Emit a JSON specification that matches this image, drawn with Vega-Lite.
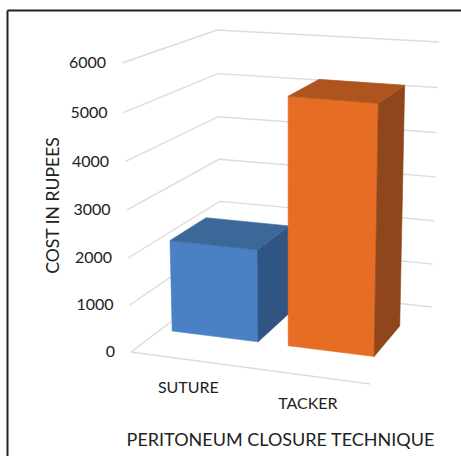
{
  "$schema": "https://vega.github.io/schema/vega-lite/v6.json",
  "width": 454,
  "height": 446,
  "autosize": "none",
  "padding": {"left": 7, "top": 10, "right": 0, "bottom": 0},
  "background": "white",
  "config": {"view": {"stroke": null}, "font": "Lato"},
  "datasets": {
    "bars": [
      {"technique": "SUTURE", "cost": 2000},
      {"technique": "TACKER", "cost": 5300}
    ],
    "ticks": [
      {"cost": 0}, {"cost": 1000}, {"cost": 2000}, {"cost": 3000},
      {"cost": 4000}, {"cost": 5000}, {"cost": 6000}
    ]
  },
  "encoding": {
    "x": {
      "field": "sx", "type": "quantitative",
      "scale": {"domain": [7, 461], "nice": false, "zero": false},
      "axis": {
        "orient": "top", "title": "PERITONEUM CLOSURE TECHNIQUE", "labels": false, "ticks": false, "grid": false,
        "domain": true, "domainColor": "#222222", "domainWidth": 2,
        "titleX": 273, "titleY": 430, "titleAlign": "center", "titleBaseline": "middle",
        "titleFont": "Lato", "titleFontSize": 18, "titleFontWeight": "normal", "titleColor": "#222222"
      }
    },
    "y": {
      "field": "sy", "type": "quantitative",
      "scale": {"domain": [456, 10], "nice": false, "zero": false},
      "axis": {
        "title": "COST IN RUPEES", "labels": false, "ticks": false, "grid": false,
        "domain": true, "domainColor": "#222222", "domainWidth": 2,
        "titleX": 46, "titleY": 195, "titleAlign": "center", "titleBaseline": "middle", "titleAngle": -90,
        "titleFont": "Lato", "titleFontSize": 17.6, "titleFontWeight": "normal", "titleColor": "#222222"
      }
    }
  },
  "layer": [
    {
      "description": "Walls of the box: each cost level runs along the left wall, then the back wall",
      "data": {"name": "ticks"},
      "transform": [
        {"calculate": "[{u:0,d:0,n:0},{u:0,d:1,n:1},{u:1,d:1,n:2}]", "as": "pt"},
        {"flatten": ["pt"]},
        {"calculate": "datum.pt.u", "as": "u"},
        {"calculate": "datum.pt.d", "as": "d"},
        {"calculate": "datum.pt.n", "as": "n"},
        {"calculate": "datum.cost/6000", "as": "z"},
        {"calculate": "datum.z*(1-0.036*(1-datum.z))", "as": "fz"},
        {"calculate": "(131+239*datum.u+90*datum.d-28*datum.u*datum.d)*(1-datum.fz)+(122+253*datum.u+95*datum.d-31*datum.u*datum.d)*datum.fz", "as": "sx"},
        {"calculate": "(352+32*datum.u-68*datum.d-9*datum.u*datum.d)*(1-datum.fz)+(63+21*datum.u-33*datum.d-9*datum.u*datum.d)*datum.fz", "as": "sy"}
      ],
      "mark": {"type": "line", "stroke": "#dcdcdc", "strokeWidth": 1.4},
      "encoding": {"detail": {"field": "cost"}, "order": {"field": "n"}}
    },
    {
      "description": "Front edge of the floor",
      "data": {"values": [{"u": 0}, {"u": 1}]},
      "transform": [
        {"calculate": "131+239*datum.u", "as": "sx"},
        {"calculate": "352+32*datum.u", "as": "sy"}
      ],
      "mark": {"type": "line", "stroke": "#dcdcdc", "strokeWidth": 1.4},
      "encoding": {}
    },
    {
      "description": "Three visible faces of each bar, as closed polygons",
      "data": {"name": "bars"},
      "transform": [
        {"calculate": "indexof(['SUTURE','TACKER'],datum.technique)", "as": "slot"},
        {"calculate": "[{f:'front',a:0,b:0,c:0,n:0},{f:'front',a:1,b:0,c:0,n:1},{f:'front',a:1,b:0,c:1,n:2},{f:'front',a:0,b:0,c:1,n:3},{f:'side',a:1,b:0,c:0,n:0},{f:'side',a:1,b:1,c:0,n:1},{f:'side',a:1,b:1,c:1,n:2},{f:'side',a:1,b:0,c:1,n:3},{f:'top',a:0,b:0,c:1,n:0},{f:'top',a:1,b:0,c:1,n:1},{f:'top',a:1,b:1,c:1,n:2},{f:'top',a:0,b:1,c:1,n:3}]", "as": "pt"},
        {"flatten": ["pt"]},
        {"calculate": "datum.technique+' '+datum.pt.f", "as": "face"},
        {"calculate": "datum.pt.n", "as": "n"},
        {"calculate": "0.237+0.505*datum.slot+0.187*(2*datum.pt.a-1)", "as": "u"},
        {"calculate": "0.33+0.40*datum.pt.b", "as": "d"},
        {"calculate": "datum.pt.c*datum.cost/6000", "as": "z"},
        {"calculate": "datum.z*(1-0.036*(1-datum.z))", "as": "fz"},
        {"calculate": "(131+239*datum.u+90*datum.d-28*datum.u*datum.d)*(1-datum.fz)+(122+253*datum.u+95*datum.d-31*datum.u*datum.d)*datum.fz", "as": "sx"},
        {"calculate": "(352+32*datum.u-68*datum.d-9*datum.u*datum.d)*(1-datum.fz)+(63+21*datum.u-33*datum.d-9*datum.u*datum.d)*datum.fz", "as": "sy"}
      ],
      "mark": {"type": "line", "interpolate": "linear-closed", "strokeWidth": 0.6},
      "encoding": {
        "order": {"field": "n"},
        "fill": {
          "field": "face", "type": "nominal", "legend": null,
          "scale": {
            "domain": ["SUTURE front", "SUTURE side", "SUTURE top", "TACKER front", "TACKER side", "TACKER top"],
            "range": ["#4a80c4", "#315583", "#3a6898", "#e56e24", "#8f461c", "#ae551f"]
          }
        },
        "stroke": {
          "field": "face", "type": "nominal", "legend": null,
          "scale": {
            "domain": ["SUTURE front", "SUTURE side", "SUTURE top", "TACKER front", "TACKER side", "TACKER top"],
            "range": ["#4a80c4", "#315583", "#3a6898", "#e56e24", "#8f461c", "#ae551f"]
          }
        }
      }
    },
    {
      "description": "Cost labels beside the front end of the left wall",
      "data": {"name": "ticks"},
      "transform": [
        {"calculate": "datum.cost/6000", "as": "z"},
        {"calculate": "datum.z*(1-0.036*(1-datum.z))", "as": "fz"},
        {"calculate": "131-9*datum.fz", "as": "sx"},
        {"calculate": "352-289*datum.fz", "as": "sy"}
      ],
      "mark": {"type": "text", "align": "right", "baseline": "middle", "dx": -16, "font": "Lato", "fontSize": 16, "fill": "#222222"},
      "encoding": {"text": {"field": "cost", "type": "quantitative", "format": "d"}}
    },
    {
      "description": "Technique names under the front edge of the floor",
      "data": {"name": "bars"},
      "transform": [
        {"calculate": "0.24+0.5*indexof(['SUTURE','TACKER'],datum.technique)", "as": "u"},
        {"calculate": "131+239*datum.u", "as": "sx"},
        {"calculate": "352+32*datum.u", "as": "sy"}
      ],
      "mark": {"type": "text", "align": "center", "baseline": "middle", "dy": 28, "font": "Lato", "fontSize": 16, "fill": "#222222"},
      "encoding": {"text": {"field": "technique", "type": "nominal"}}
    }
  ]
}
